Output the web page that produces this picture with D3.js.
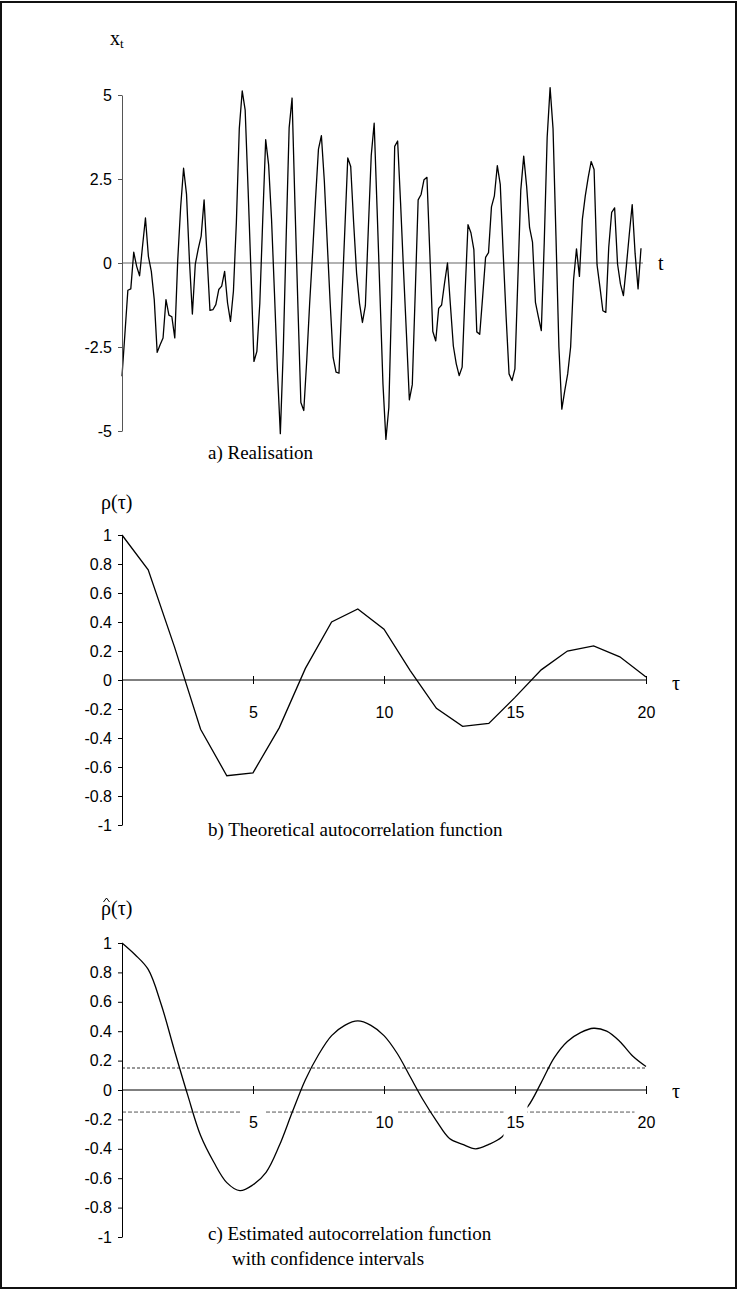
<!DOCTYPE html>
<html><head><meta charset="utf-8">
<script src="https://cdn.jsdelivr.net/npm/d3@7"></script>
<style>html,body{margin:0;padding:0;background:#fff}</style>
</head><body>
<svg id="chart" width="738" height="1290"></svg>
<script>
// ---------- DATA ----------
const realisation = [
 -3.37,-2.1,-0.81,-0.77,0.32,-0.10,-0.38,0.5,1.34,0.2,
 -0.25,-1.09,-2.66,-2.43,-2.23,-1.09,-1.55,-1.6,-2.23,0.07,
 1.66,2.82,2.05,0.07,-1.52,-0.03,0.42,0.8,1.88,0.2,
 -1.41,-1.39,-1.24,-0.79,-0.69,-0.25,-1.19,-1.74,-0.84,1.2,
 4.0,5.12,4.56,2.2,-0.3,-2.93,-2.63,-1.2,1.3,3.67,
 2.93,1.3,-0.9,-3.2,-5.08,-2.6,0.8,4.02,4.91,1.7,
 -1.3,-4.15,-4.39,-2.9,-1.2,0.3,1.9,3.39,3.79,2.45,
 0.6,-1.2,-2.81,-3.25,-3.28,-1.1,1.0,3.13,2.87,1.2,
 -0.3,-1.2,-1.77,-1.27,1.0,3.2,4.16,1.6,-1.0,-3.6,
 -5.25,-4.3,-0.9,3.47,3.63,1.8,-0.2,-2.1,-4.07,-3.62,
 -0.9,1.88,2.04,2.48,2.55,0.25,-2.04,-2.32,-1.35,-1.25,
 -0.6,0.0,-1.25,-2.47,-3.0,-3.35,-3.1,-0.9,1.14,0.9,
 0.4,-2.05,-2.12,-1.0,0.17,0.31,1.67,2.0,2.9,2.34,
 0.3,-1.6,-3.3,-3.5,-3.15,-0.5,2.17,3.18,2.28,1.05,
 0.62,-1.17,-1.6,-2.01,0.6,3.74,5.22,4.0,0.8,-2.5,
 -4.35,-3.8,-3.3,-2.5,-0.5,0.42,-0.4,1.3,2.0,2.55,
 3.02,2.78,-0.05,-0.72,-1.42,-1.47,0.47,1.51,1.64,-0.03,
 -0.63,-0.97,-0.1,0.85,1.74,0.27,-0.77,0.44
];
const realisationTicks = [5, 2.5, 0, -2.5, -5];

const acfLags = [0,1,2,3,4,5,6,7,8,9,10,11,12,13,14,15,16,17,18,19,20];
const acfTheoretical = [1,0.76,0.23,-0.34,-0.66,-0.64,-0.33,0.08,0.40,0.49,
  0.35,0.065,-0.195,-0.32,-0.30,-0.12,0.07,0.20,0.235,0.16,0.02];

const estLags = [0,0.5,1,1.5,2,2.5,3,3.5,4,4.5,5,5.5,6,6.5,7,7.5,8,8.5,9,9.5,
  10,10.5,11,11.5,12,12.5,13,13.5,14,14.5,15,15.5,16,16.5,17,17.5,18,18.5,19,19.5,20];
const acfEstimated = [1.0,0.92,0.82,0.58,0.27,-0.03,-0.31,-0.49,-0.63,-0.685,
  -0.645,-0.56,-0.38,-0.15,0.07,0.24,0.37,0.44,0.47,0.44,
  0.37,0.25,0.09,-0.07,-0.21,-0.33,-0.37,-0.40,-0.37,-0.32,
  -0.2,-0.11,0.05,0.22,0.33,0.39,0.42,0.40,0.33,0.23,0.16];
const confBound = 0.15;

const acfYTicks = [1,0.8,0.6,0.4,0.2,0,-0.2,-0.4,-0.6,-0.8,-1];
const acfXTicks = [5,10,15,20];

// ---------- DRAW ----------
const svg = d3.select("#chart");
const SANS = "'Liberation Sans', Arial, sans-serif";
const SERIF = "'Liberation Serif', 'Times New Roman', serif";

svg.append("rect").attr("x",1).attr("y",2).attr("width",735).attr("height",1286)
  .attr("fill","none").attr("stroke","#111").attr("stroke-width",2);

function styleAxis(g, color){
  g.select(".domain").attr("stroke", color).attr("stroke-width",1);
  g.selectAll(".tick line").attr("stroke", color);
  g.selectAll("text").attr("font-family", SANS).attr("font-size", 16).attr("fill","#000");
}

// Panel a
const xA = d3.scaleLinear().domain([0, realisation.length-1]).range([122, 641]);
const yA = d3.scaleLinear().domain([-5, 5]).range([431, 95]);
svg.append("line").attr("x1",122).attr("x2",643).attr("y1",yA(0)).attr("y2",yA(0))
  .attr("stroke","#666").attr("stroke-width",1.2);
svg.append("path").datum(realisation)
  .attr("d", d3.line().x((d,i)=>xA(i)).y(d=>yA(d)))
  .attr("fill","none").attr("stroke","#000").attr("stroke-width",1.3).attr("stroke-linejoin","round");
const axA = svg.append("g").attr("transform","translate(122,0)")
  .call(d3.axisLeft(yA).tickValues(realisationTicks).tickSize(4).tickSizeOuter(0).tickPadding(6).tickFormat(d=>String(d)));
styleAxis(axA, "#555");
const xt = svg.append("text").attr("x",110).attr("y",45).attr("font-family",SERIF).attr("font-size",20);
xt.append("tspan").text("x");
xt.append("tspan").attr("font-size",13).attr("dy",3).text("t");
svg.append("text").attr("x",658).attr("y",270).attr("font-family",SERIF).attr("font-size",20).text("t");
svg.append("text").attr("x",208).attr("y",459).attr("font-family",SERIF).attr("font-size",19).text("a)  Realisation");

function acfPanel(top, bottom){
  const x = d3.scaleLinear().domain([0,20]).range([122,646]);
  const y = d3.scaleLinear().domain([-1,1]).range([bottom, top]);
  return {x, y};
}

function drawXAxis(x, y, masked){
  const g = svg.append("g").attr("transform",`translate(0,${y(0)})`)
    .call(d3.axisBottom(x).tickValues(acfXTicks).tickSizeOuter(0).tickSize(4).tickFormat(d=>String(d)));
  g.select(".domain").remove();
  g.append("line").attr("x1",x(0)).attr("x2",x(20)).attr("y1",0).attr("y2",0).attr("stroke","#000");
  g.selectAll(".tick line").attr("y1",-4).attr("y2",4).attr("stroke","#000");
  if (masked){
    g.selectAll(".tick").insert("rect","text").attr("x",-12).attr("y",10).attr("width",24).attr("height",38).attr("fill","#fff");
  }
  g.selectAll(".tick text").attr("y",27).attr("dy","0.71em")
    .attr("font-family",SANS).attr("font-size",16).attr("fill","#000");
}

// Panel b
const B = acfPanel(535, 825);
svg.append("path").datum(acfTheoretical)
  .attr("d", d3.line().x((d,i)=>B.x(acfLags[i])).y(d=>B.y(d)))
  .attr("fill","none").attr("stroke","#000").attr("stroke-width",1.3);
drawXAxis(B.x, B.y, false);
const axB = svg.append("g").attr("transform","translate(122,0)")
  .call(d3.axisLeft(B.y).tickValues(acfYTicks).tickSize(4).tickSizeOuter(0).tickPadding(6).tickFormat(d=>String(d)));
styleAxis(axB, "#000");
svg.append("text").attr("x",101).attr("y",509).attr("font-family",SERIF).attr("font-size",20).text("ρ(τ)");
svg.append("text").attr("x",672).attr("y",690).attr("font-family",SERIF).attr("font-size",20).text("τ");
svg.append("text").attr("x",208).attr("y",836).attr("font-family",SERIF).attr("font-size",19).text("b)  Theoretical autocorrelation function");

// Panel c
const C = acfPanel(943, 1237);
svg.append("line").attr("x1",C.x(0)).attr("x2",C.x(20)).attr("y1",C.y(confBound)).attr("y2",C.y(confBound))
  .attr("stroke","#777").attr("stroke-width",1.4).attr("stroke-dasharray","3,2");
svg.append("line").attr("x1",C.x(0)).attr("x2",C.x(20)).attr("y1",C.y(-confBound)).attr("y2",C.y(-confBound))
  .attr("stroke","#444").attr("stroke-width",0.9).attr("stroke-dasharray","4,2");
svg.append("path").datum(acfEstimated)
  .attr("d", d3.line().x((d,i)=>C.x(estLags[i])).y(d=>C.y(d)).curve(d3.curveCatmullRom))
  .attr("fill","none").attr("stroke","#000").attr("stroke-width",1.3);
drawXAxis(C.x, C.y, true);
const axC = svg.append("g").attr("transform","translate(122,0)")
  .call(d3.axisLeft(C.y).tickValues(acfYTicks).tickSize(4).tickSizeOuter(0).tickPadding(6).tickFormat(d=>String(d)));
styleAxis(axC, "#000");
svg.append("text").attr("x",101).attr("y",915).attr("font-family",SERIF).attr("font-size",20).text("ρ(τ)");
// circumflex (hat) over rho
svg.append("path").attr("d","M103.5,902 L106.5,898 L109.5,902").attr("fill","none").attr("stroke","#000").attr("stroke-width",1);
svg.append("text").attr("x",672).attr("y",1098).attr("font-family",SERIF).attr("font-size",20).text("τ");
svg.append("text").attr("x",208).attr("y",1240).attr("font-family",SERIF).attr("font-size",19).text("c)  Estimated autocorrelation function");
svg.append("text").attr("x",232).attr("y",1265).attr("font-family",SERIF).attr("font-size",19).text("with confidence intervals");
</script>
</body></html>
